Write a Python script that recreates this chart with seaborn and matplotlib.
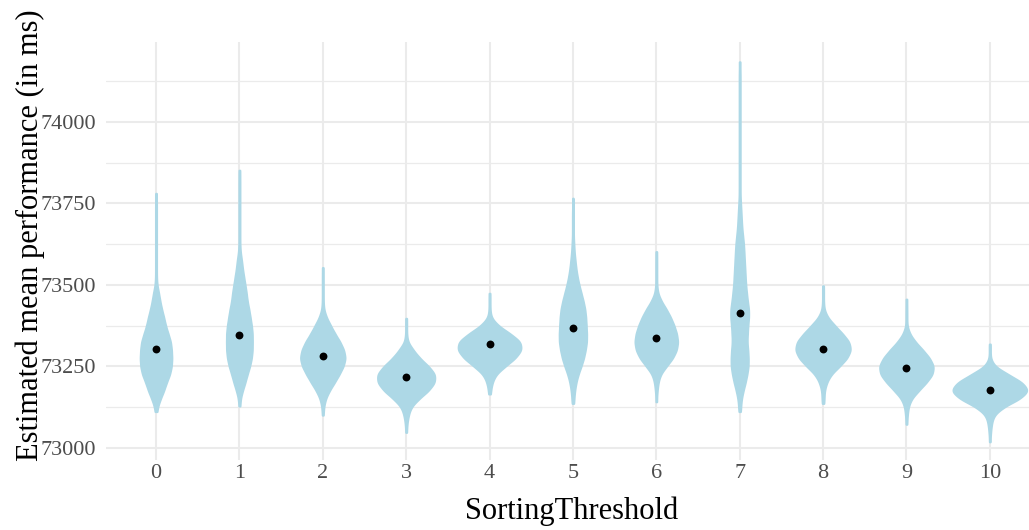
import numpy as np
import pandas as pd
import matplotlib.pyplot as plt
from matplotlib.ticker import MultipleLocator
import seaborn as sns

thresholds = list(range(11))

# mean of each distribution (black dots), ms
means = [73304, 73346, 73280, 73217, 73318, 73367, 73337, 73413, 73303, 73244, 73177]

# frequency tables: value in ms and how often it occurs
t0_vals = [73111, 73125, 73150, 73175, 73200, 73225, 73250, 73275, 73300, 73325, 73350, 73375,
           73400, 73425, 73450, 73475, 73500, 73525, 73550, 73575, 73600, 73625, 73650, 73675,
           73700, 73725, 73750, 73781]
t0_cnts = [1, 3, 10, 18, 24, 32, 36, 37, 36, 34, 28, 22, 18, 13, 9, 6, 2, 1, 1, 1, 1, 1, 1, 1,
           1, 1, 1, 1]

t1_vals = [73128, 73150, 73175, 73200, 73225, 73250, 73275, 73300, 73325, 73350, 73375, 73400,
           73425, 73450, 73475, 73500, 73525, 73550, 73575, 73600, 73625, 73650, 73675, 73700,
           73725, 73750, 73775, 73800, 73825, 73852]
t1_cnts = [1, 2, 7, 13, 18, 24, 28, 30, 30, 30, 28, 25, 22, 18, 16, 13, 10, 7, 5, 2, 1, 1, 1, 1,
           1, 1, 1, 1, 1, 1]

t2_vals = [73100, 73125, 73150, 73175, 73200, 73225, 73250, 73275, 73300, 73325, 73350, 73375,
           73400, 73425, 73450, 73475, 73500, 73525, 73553]
t2_cnts = [1, 2, 6, 15, 27, 38, 48, 53, 49, 40, 28, 18, 8, 2, 1, 1, 1, 1, 1]

t3_vals = [73047, 73075, 73100, 73125, 73150, 73175, 73200, 73225, 73250, 73275, 73300, 73325,
           73350, 73375, 73397]
t3_cnts = [1, 2, 5, 11, 29, 52, 67, 68, 52, 31, 16, 3, 1, 1, 1]

t4_vals = [73165, 73175, 73200, 73225, 73250, 73275, 73300, 73325, 73350, 73375, 73400, 73425,
           73450, 73474]
t4_cnts = [1, 2, 6, 14, 36, 60, 75, 73, 48, 19, 3, 1, 1, 1]

t5_vals = [73136, 73150, 73175, 73200, 73225, 73250, 73275, 73300, 73325, 73350, 73375, 73400,
           73425, 73450, 73475, 73500, 73525, 73550, 73575, 73600, 73625, 73650, 73675, 73700,
           73725, 73766]
t5_cnts = [1, 2, 4, 7, 12, 19, 25, 29, 32, 32, 31, 30, 28, 24, 19, 14, 10, 7, 5, 3, 2, 1, 1, 1,
           1, 1]

t6_vals = [73141, 73175, 73200, 73225, 73250, 73275, 73300, 73325, 73350, 73375, 73400, 73425,
           73450, 73475, 73500, 73525, 73550, 73575, 73602]
t6_cnts = [1, 2, 4, 9, 23, 38, 47, 50, 47, 41, 33, 23, 11, 3, 1, 1, 1, 1, 1]

t7_vals = [73111, 73125, 73150, 73175, 73200, 73225, 73250, 73275, 73300, 73325, 73350, 73375,
           73400, 73425, 73450, 73475, 73500, 73525, 73550, 73575, 73600, 73625, 73650, 73675,
           73700, 73725, 73750, 73775, 73800, 73825, 73850, 73875, 73900, 73925, 73950, 73975,
           74000, 74025, 74050, 74075, 74100, 74125, 74150, 74185]
t7_cnts = [1, 2, 4, 8, 13, 17, 20, 20, 19, 17, 18, 19, 21, 21, 18, 16, 14, 13, 12, 11, 10, 9, 7, 5,
           4, 3, 2, 1, 1, 1, 1, 1, 1, 1, 1, 1, 1, 1, 1, 1, 1, 1, 1, 1]

t8_vals = [73136, 73150, 73175, 73200, 73225, 73250, 73275, 73300, 73325, 73350, 73375, 73400,
           73425, 73450, 73475, 73497]
t8_cnts = [1, 2, 3, 8, 18, 38, 56, 65, 61, 45, 27, 10, 2, 1, 1, 1]

t9_vals = [73072, 73100, 73125, 73150, 73175, 73200, 73225, 73250, 73275, 73300, 73325, 73350,
           73375, 73400, 73425, 73456]
t9_cnts = [1, 2, 4, 11, 28, 46, 61, 64, 54, 38, 20, 7, 1, 1, 1, 1]

t10_vals = [73018, 73050, 73075, 73100, 73125, 73150, 73175, 73200, 73225, 73250, 73275, 73300,
            73318]
t10_cnts = [1, 2, 4, 9, 31, 70, 92, 76, 42, 10, 1, 1, 1]

tables = [(t0_vals, t0_cnts), (t1_vals, t1_cnts), (t2_vals, t2_cnts), (t3_vals, t3_cnts),
          (t4_vals, t4_cnts), (t5_vals, t5_cnts), (t6_vals, t6_cnts), (t7_vals, t7_cnts),
          (t8_vals, t8_cnts), (t9_vals, t9_cnts), (t10_vals, t10_cnts)]

# long format: every value repeated as often as it was counted
rows = []
for t, (vals, cnts) in zip(thresholds, tables):
    for v in np.repeat(vals, cnts):
        rows.append((t, v))
df = pd.DataFrame(rows, columns=["SortingThreshold", "perf"])

sns.set_theme(style="white")
plt.rcParams["font.family"] = ["Liberation Serif", "DejaVu Serif"]

fig = plt.figure(figsize=(10.29, 5.30), dpi=100)
ax = fig.add_axes([106 / 1029, 70 / 530, 923 / 1029, 418 / 530])

# same area for every violin, like ggplot's geom_violin
sns.violinplot(data=df, x="SortingThreshold", y="perf", order=thresholds, ax=ax,
               color="lightblue", saturation=1, linecolor="lightblue", linewidth=1.6,
               inner=None, cut=0, density_norm="area", width=0.88, gridsize=300,
               bw_method=lambda k: 15.0 / k.dataset.std(), joinstyle="round")

sns.scatterplot(x=thresholds, y=means, color="black", s=32, linewidth=0, ax=ax,
                zorder=3, legend=False)

ax.set_xlim(-0.6, 10.47)
ax.set_ylim(72962, 74246)
ax.yaxis.set_major_locator(MultipleLocator(250))
ax.yaxis.set_minor_locator(MultipleLocator(125))
ax.ticklabel_format(axis="y", useOffset=False, style="plain")
ax.set_xticks(thresholds)
ax.set_xticklabels([str(t) for t in thresholds])

ax.grid(which="major", axis="both", color="#EBEBEB", linewidth=1.5)
ax.grid(which="minor", axis="y", color="#EBEBEB", linewidth=0.9)
ax.set_axisbelow(True)
for s in ax.spines.values():
    s.set_visible(False)

ax.tick_params(axis="both", which="both", length=0, labelsize=16, labelcolor="#4D4D4D")
ax.tick_params(axis="y", pad=7)
ax.tick_params(axis="x", pad=3)

ax.set_xlabel("SortingThreshold", fontsize=22, color="black")
ax.set_ylabel("Estimated mean performance (in ms)", fontsize=22, color="black")
ax.xaxis.set_label_coords(0.505, -0.088)
ax.yaxis.set_label_coords(-0.066, 0.538)

fig.savefig("out.png", dpi=100)
